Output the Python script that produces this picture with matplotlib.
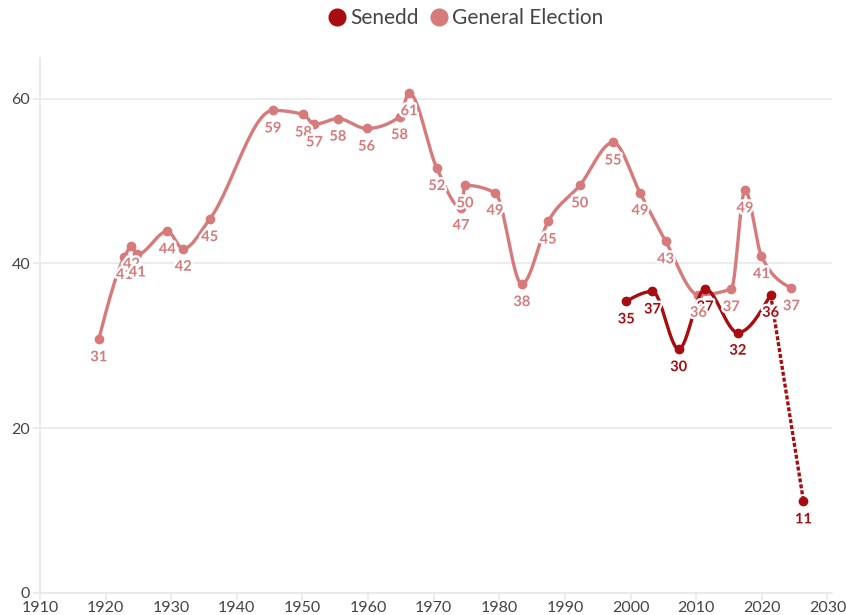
import numpy as np
import matplotlib
matplotlib.use("Agg")
import matplotlib.pyplot as plt
import matplotlib.patheffects as pe
from matplotlib.lines import Line2D

plt.rcParams['font.family'] = ['Lato', 'DejaVu Sans']

# general election dates (as fractional years) and vote share
ge_years = [1918.96, 1922.87, 1923.93, 1924.83, 1929.41, 1931.82, 1935.87,
            1945.50, 1950.15, 1951.82, 1955.40, 1959.77, 1964.79, 1966.25,
            1970.47, 1974.16, 1974.78, 1979.34, 1983.44, 1987.44, 1992.27,
            1997.34, 2001.44, 2005.35, 2010.35, 2015.35, 2017.44, 2019.95,
            2024.51]
ge_share = [30.8, 40.8, 42.1, 41.1, 43.9, 41.8, 45.4,
            58.6, 58.1, 56.9, 57.6, 56.4, 57.8, 60.7,
            51.6, 46.8, 49.5, 48.6, 37.5, 45.1, 49.5,
            54.7, 48.6, 42.7, 36.2, 36.9, 48.9, 40.9,
            37.0]

# senedd elections, last one is the poll shown dashed
senedd_years = [1999.35, 2003.34, 2007.34, 2011.35, 2016.35, 2021.35, 2026.35]
senedd_share = [35.4, 36.6, 29.6, 36.9, 31.6, 36.2, 11.1]

ge_color = '#d77a7b'
senedd_color = '#a80c10'
text_color = '#444444'
grid_color = '#e9e9e9'


def monotone_curve(xs, ys, steps=30):
    # monotone cubic (steffen) interpolation, same idea as d3 curveMonotoneX
    x = np.asarray(xs, dtype=float)
    y = np.asarray(ys, dtype=float)
    n = len(x)
    h = np.diff(x)
    s = np.diff(y) / h
    t = np.zeros(n)
    for i in range(1, n - 1):
        p = (s[i - 1] * h[i] + s[i] * h[i - 1]) / (h[i - 1] + h[i])
        t[i] = (np.sign(s[i - 1]) + np.sign(s[i])) * min(abs(s[i - 1]), abs(s[i]), 0.5 * abs(p))
    t[0] = (3 * s[0] - t[1]) / 2 if n > 2 else s[0]
    t[-1] = (3 * s[-1] - t[-2]) / 2 if n > 2 else s[-1]
    out_x, out_y = [], []
    for i in range(n - 1):
        u = np.linspace(0, 1, steps)
        h00 = 2 * u**3 - 3 * u**2 + 1
        h10 = u**3 - 2 * u**2 + u
        h01 = -2 * u**3 + 3 * u**2
        h11 = u**3 - u**2
        out_x.extend(x[i] + u * h[i])
        out_y.extend(h00 * y[i] + h10 * h[i] * t[i] + h01 * y[i + 1] + h11 * h[i] * t[i + 1])
    return np.array(out_x), np.array(out_y)


def add_labels(ax, xs, ys, color, z):
    for xv, yv in zip(xs, ys):
        ax.annotate(str(int(round(yv))), (xv, yv), xytext=(0, -13), textcoords='offset points',
                    ha='center', va='center', fontsize=10.5, fontweight='bold', color=color,
                    zorder=z,
                    path_effects=[pe.withStroke(linewidth=3.5, foreground='white')])


fig = plt.figure(figsize=(8.46, 6.15), dpi=100)
ax = fig.add_axes([40 / 846, 22.3 / 615, 792 / 846, 535 / 615])

# general election line
cx, cy = monotone_curve(ge_years, ge_share)
ax.plot(cx, cy, color=ge_color, lw=2.4, zorder=3, solid_capstyle='round')
ax.plot(ge_years, ge_share, 'o', color=ge_color, ms=6, zorder=4)

# senedd line, solid up to 2021 then dashed to the latest point
sx, sy = monotone_curve(senedd_years[:-1], senedd_share[:-1])
ax.plot(sx, sy, color=senedd_color, lw=2.4, zorder=5, solid_capstyle='round')
ax.plot(senedd_years[-2:], senedd_share[-2:], color=senedd_color, lw=2.4,
        linestyle=(0, (1.2, 0.6)), zorder=5)
ax.plot(senedd_years, senedd_share, 'o', color=senedd_color, ms=6, zorder=6)

add_labels(ax, senedd_years, senedd_share, senedd_color, 7)
add_labels(ax, ge_years, ge_share, ge_color, 8)

ax.set_xlim(1910, 2030.7)
ax.set_ylim(0, 65)
ax.set_xticks(np.arange(1910, 2031, 10))
ax.set_yticks([0, 20, 40, 60])
ax.yaxis.grid(True, color=grid_color, lw=1.2)
ax.set_axisbelow(True)

for side in ['top', 'right']:
    ax.spines[side].set_visible(False)
ax.spines['left'].set_color(grid_color)
ax.spines['bottom'].set_color(grid_color)
ax.spines['left'].set_linewidth(1.2)
ax.spines['bottom'].set_linewidth(1.2)
ax.tick_params(axis='both', color=grid_color, length=5, width=1.2)
ax.tick_params(axis='both', labelsize=11.5, labelcolor=text_color)
ax.tick_params(axis='x', pad=1)
ax.tick_params(axis='y', pad=2)

handles = [Line2D([], [], marker='o', ls='', color=senedd_color, ms=12),
           Line2D([], [], marker='o', ls='', color=ge_color, ms=12)]
leg = fig.legend(handles, ['Senedd', 'General Election'], loc='center',
                 bbox_to_anchor=(465 / 846, 1 - 18 / 615), ncol=2, frameon=False,
                 fontsize=15, handletextpad=0.1, columnspacing=0.5, handlelength=1.0)
for t in leg.get_texts():
    t.set_color(text_color)

plt.savefig('out.png', dpi=100)
plt.close()
